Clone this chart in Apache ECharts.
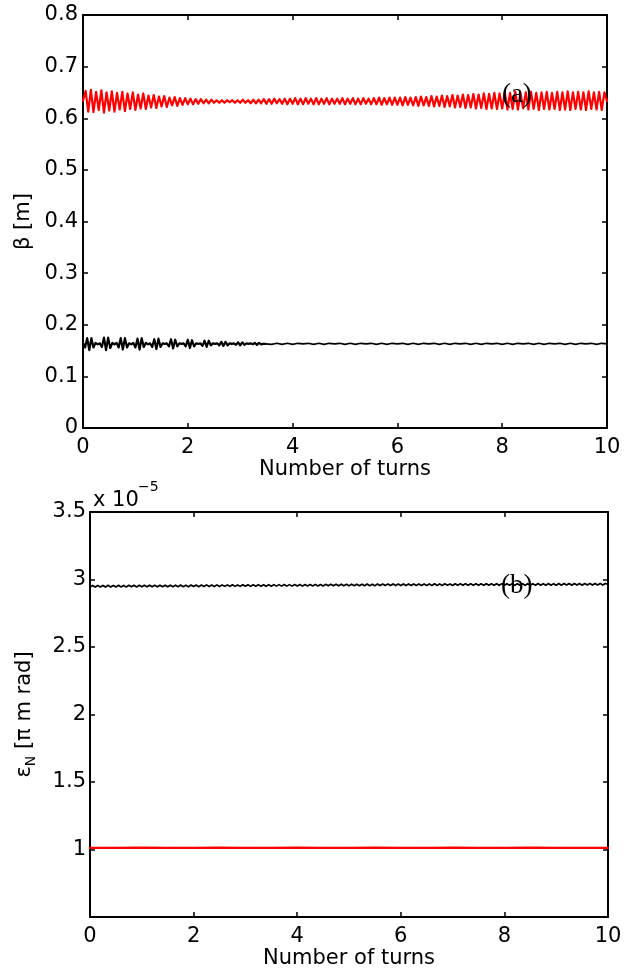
<!DOCTYPE html>
<html><head><meta charset="utf-8">
<script src="https://cdn.jsdelivr.net/npm/echarts@6/dist/echarts.min.js"></script>
<style>html,body{margin:0;padding:0;background:#fff}#c{width:630px;height:971px}</style>
</head><body><div id="c"></div>
<script>
// ---------- data ----------
const turnTicks = [0, 2, 4, 6, 8, 10];
const betaTicks = [0, 0.1, 0.2, 0.3, 0.4, 0.5, 0.6, 0.7, 0.8];
const emitTicks = [0.5, 1, 1.5, 2, 2.5, 3, 3.5];   // units of 1e-5 pi m rad
const emitExponent = '−5';

// (a) beta, red: sampled every 0.05 turns
const redBetaStep = 0.05;
const redBeta = [
0.634,0.653,0.613,0.655,0.612,0.651,0.616,0.654,0.611,0.650,
0.615,0.652,0.613,0.649,0.617,0.651,0.614,0.648,0.618,0.650,
0.616,0.646,0.619,0.648,0.618,0.644,0.621,0.645,0.620,0.642,
0.623,0.643,0.622,0.640,0.625,0.641,0.624,0.639,0.626,0.639,
0.627,0.638,0.627,0.637,0.628,0.637,0.629,0.636,0.629,0.636,
0.630,0.635,0.630,0.635,0.630,0.635,0.631,0.635,0.630,0.635,
0.630,0.636,0.630,0.635,0.629,0.636,0.629,0.636,0.629,0.637,
0.628,0.637,0.628,0.638,0.629,0.637,0.628,0.638,0.627,0.638,
0.628,0.639,0.627,0.638,0.627,0.639,0.628,0.638,0.627,0.639,
0.627,0.638,0.628,0.639,0.627,0.638,0.628,0.638,0.628,0.639,
0.627,0.638,0.628,0.639,0.627,0.638,0.627,0.639,0.628,0.638,
0.627,0.639,0.627,0.640,0.626,0.639,0.627,0.640,0.626,0.640,
0.626,0.640,0.625,0.641,0.626,0.640,0.625,0.641,0.624,0.642,
0.625,0.641,0.624,0.643,0.623,0.642,0.624,0.644,0.622,0.643,
0.623,0.645,0.621,0.644,0.622,0.646,0.620,0.645,0.621,0.647,
0.619,0.646,0.620,0.648,0.618,0.647,0.619,0.649,0.618,0.648,
0.619,0.650,0.617,0.649,0.618,0.651,0.617,0.649,0.619,0.650,
0.617,0.651,0.618,0.649,0.616,0.650,0.618,0.651,0.617,0.649,
0.618,0.651,0.616,0.650,0.617,0.652,0.616,0.650,0.618,0.651,
0.617,0.650,0.616,0.652,0.618,0.650,0.617,0.651,0.616,0.650,
0.633
];

// (a) beta, black: first part every 0.04 turns (0 .. 3.48), then every 0.1 turns (3.5 .. 10)
const blackBetaHeadStep = 0.04;
const blackBetaHead = [
0.165,0.156,0.174,0.151,0.174,0.156,0.165,0.162,
0.164,0.157,0.175,0.151,0.175,0.155,0.165,0.162,
0.165,0.156,0.174,0.152,0.174,0.156,0.164,0.162,
0.165,0.156,0.173,0.152,0.174,0.157,0.165,0.162,
0.164,0.157,0.172,0.153,0.173,0.157,0.164,0.163,
0.164,0.158,0.172,0.154,0.171,0.158,0.164,0.163,
0.164,0.158,0.171,0.155,0.170,0.158,0.164,0.163,
0.164,0.159,0.169,0.157,0.169,0.160,0.164,0.163,
0.164,0.160,0.167,0.159,0.167,0.160,0.164,0.163,
0.164,0.161,0.166,0.160,0.166,0.161,0.164,0.163,
0.164,0.162,0.165,0.161,0.165,0.162,0.163,0.163
];
const blackBetaTailStart = 3.5;
const blackBetaTailStep = 0.1;
const blackBetaTail = [
0.164,0.162,0.164,0.162,0.164,0.162,0.164,0.163,0.164,0.162,
0.164,0.162,0.164,0.163,0.164,0.162,0.164,0.162,0.164,0.163,
0.164,0.162,0.164,0.162,0.164,0.163,0.164,0.162,0.164,0.162,
0.164,0.163,0.164,0.162,0.164,0.162,0.164,0.163,0.164,0.162,
0.164,0.162,0.164,0.163,0.164,0.162,0.164,0.162,0.164,0.163,
0.164,0.162,0.164,0.162,0.164,0.163,0.164,0.162,0.164,0.162,
0.164,0.163,0.164,0.162,0.164,0.163
];

// (b) normalized emittance (x 1e-5), black: every 0.05 turns
const blackEmitStep = 0.05;
const blackEmit = [
2.944,2.956,2.944,2.956,2.945,2.956,2.944,2.957,2.945,2.956,
2.945,2.957,2.945,2.956,2.945,2.957,2.946,2.957,2.945,2.957,
2.946,2.957,2.946,2.958,2.946,2.957,2.946,2.958,2.947,2.958,
2.946,2.958,2.947,2.958,2.947,2.959,2.947,2.958,2.947,2.959,
2.948,2.959,2.947,2.959,2.948,2.960,2.948,2.959,2.948,2.960,
2.948,2.960,2.949,2.960,2.949,2.961,2.949,2.960,2.949,2.961,
2.950,2.961,2.949,2.961,2.950,2.962,2.950,2.961,2.950,2.962,
2.950,2.962,2.951,2.962,2.951,2.963,2.951,2.962,2.951,2.963,
2.952,2.963,2.951,2.963,2.952,2.963,2.952,2.964,2.952,2.963,
2.952,2.964,2.953,2.964,2.953,2.964,2.953,2.965,2.953,2.964,
2.953,2.965,2.954,2.965,2.954,2.965,2.954,2.966,2.954,2.965,
2.954,2.966,2.955,2.966,2.955,2.966,2.955,2.967,2.955,2.966,
2.955,2.967,2.955,2.967,2.956,2.967,2.956,2.967,2.956,2.967,
2.956,2.967,2.956,2.968,2.956,2.967,2.956,2.968,2.957,2.967,
2.956,2.968,2.957,2.968,2.957,2.968,2.957,2.968,2.957,2.968,
2.957,2.968,2.957,2.969,2.957,2.968,2.957,2.969,2.957,2.968,
2.957,2.969,2.958,2.969,2.957,2.969,2.958,2.969,2.957,2.969,
2.958,2.969,2.958,2.970,2.958,2.969,2.958,2.970,2.958,2.969,
2.958,2.970,2.958,2.970,2.959,2.970,2.958,2.970,2.959,2.970,
2.958,2.970,2.959,2.970,2.959,2.971,2.959,2.970,2.959,2.970,
2.964
];

// (b) normalized emittance (x 1e-5), red: every 0.5 turns
const redEmitStep = 0.5;
const redEmit = [
1.012,1.012,1.013,1.012,1.012,1.013,1.012,1.012,1.013,1.012,
1.012,1.013,1.012,1.012,1.013,1.012,1.012,1.013,1.012,1.012,1.012
];

// ---------- build ----------
const pairs = (arr, step, start = 0) => arr.map((v, i) => [+(start + i * step).toFixed(4), v]);
const redBetaData = pairs(redBeta, redBetaStep);
const blackBetaHeadData = pairs(blackBetaHead, blackBetaHeadStep);
const blackBetaTailData = [blackBetaHeadData[blackBetaHeadData.length - 1]].concat(pairs(blackBetaTail, blackBetaTailStep, blackBetaTailStart));
const blackEmitData = pairs(blackEmit, blackEmitStep);
const redEmitData = pairs(redEmit, redEmitStep);

const FONT = 'DejaVu Sans';
const FS = 21;
const AX = {color: '#000', width: 2};
const TICK = {inside: true, length: 5, lineStyle: {color: '#000', width: 1.5}};
const lab = (m) => ({color: '#000', fontFamily: FONT, fontSize: FS, margin: m});
const fmt = v => String(Math.round(v * 10) / 10);

const grids = [
  {left: 83, right: 23, top: 15, height: 413},
  {left: 90, right: 22, top: 512, height: 405}
];

function xAxes(gi) {
  return [
    {gridIndex: gi, type: 'value', position: 'bottom', min: turnTicks[0], max: turnTicks[turnTicks.length - 1], interval: 2,
     axisLine: {onZero: false, lineStyle: AX}, axisTick: TICK, axisLabel: lab(9), splitLine: {show: false},
     name: 'Number of turns', nameLocation: 'middle', nameGap: 31,
     nameTextStyle: {color: '#000', fontFamily: FONT, fontSize: FS}},
    {gridIndex: gi, type: 'value', position: 'top', min: turnTicks[0], max: turnTicks[turnTicks.length - 1], interval: 2,
     axisLine: {onZero: false, lineStyle: AX}, axisTick: TICK, axisLabel: {show: false}, splitLine: {show: false}}
  ];
}
function yAxes(gi, ticks, name, gap, margin, extra) {
  const base = {gridIndex: gi, type: 'value', min: ticks[0], max: ticks[ticks.length - 1], interval: +(ticks[1] - ticks[0]).toFixed(4),
    splitLine: {show: false}};
  return [
    Object.assign({}, base, {position: 'left', axisLine: {onZero: false, lineStyle: AX}, axisTick: TICK,
      axisLabel: Object.assign(lab(margin), {formatter: fmt}, extra || {}),
      name: name, nameLocation: 'middle', nameGap: gap,
      nameTextStyle: {color: '#000', fontFamily: FONT, fontSize: FS,
        rich: {s: {fontFamily: FONT, fontSize: 14, color: '#000', padding: [12, 0, 0, 0]}}}}),
    Object.assign({}, base, {position: 'right', axisLine: {onZero: false, lineStyle: AX}, axisTick: TICK,
      axisLabel: {show: false}})
  ];
}

const line = (xi, yi, data, color, w) => ({
  type: 'line', xAxisIndex: xi, yAxisIndex: yi, data: data, showSymbol: false, symbol: 'none',
  lineStyle: {color: color, width: w, join: 'round', cap: 'round'}, itemStyle: {color: color}, animation: false, silent: true, z: 3
});

const chart = echarts.init(document.getElementById('c'), null, {renderer: 'canvas'});
chart.setOption({
  animation: false,
  backgroundColor: '#fff',
  textStyle: {fontFamily: FONT},
  grid: grids,
  xAxis: xAxes(0).concat(xAxes(1)),
  yAxis: yAxes(0, betaTicks, 'β [m]', 46, 5).concat(yAxes(1, emitTicks, 'ε{s|N} [π m rad]', 52, 4, {showMinLabel: false})),
  series: [
    line(0, 0, redBetaData, '#ff0000', 2.2),
    line(0, 0, blackBetaHeadData, '#000000', 2.2),
    line(0, 0, blackBetaTailData, '#000000', 1.6),
    line(2, 2, blackEmitData, '#000000', 1.7),
    line(2, 2, redEmitData, '#ff0000', 2.4)
  ]
});

// panel annotations (data coordinates)
const panelTags = [
  {text: '(a)', grid: 0, at: [8.28, 0.645]},
  {text: '(b)', grid: 1, at: [8.24, 2.95]}
];
const graphics = panelTags.map(t => {
  const p = chart.convertToPixel({gridIndex: t.grid}, t.at);
  return {type: 'text', x: p[0], y: p[1], z: 10,
    style: {text: t.text, fill: '#000', font: '27px "Liberation Serif"', align: 'center', verticalAlign: 'middle'}};
});
const g1 = grids[1];
graphics.push({type: 'text', x: g1.left + 3, y: g1.top - 11, z: 10,
  style: {text: 'x 10', fill: '#000', font: FS + 'px "DejaVu Sans"', align: 'left', verticalAlign: 'middle'}});
graphics.push({type: 'text', x: g1.left + 48, y: g1.top - 25, z: 10,
  style: {text: emitExponent, fill: '#000', font: '14px "DejaVu Sans"', align: 'left', verticalAlign: 'middle'}});
chart.setOption({graphic: graphics});
</script>
</body></html>
